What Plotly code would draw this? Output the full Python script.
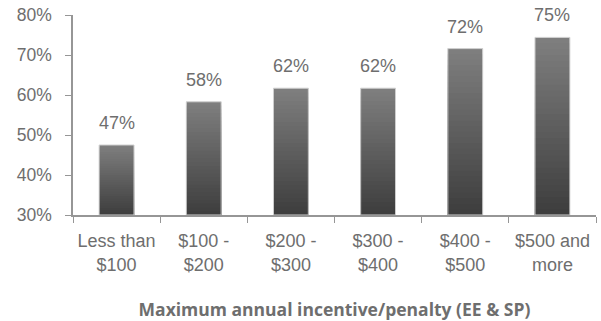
import plotly.graph_objects as go

categories = ["Less than<br>$100", "$100 -<br>$200", "$200 -<br>$300", "$300 -<br>$400", "$400 -<br>$500", "$500 and<br>more"]
values = [47.5, 58.3, 61.7, 61.7, 71.6, 74.4]
labels = ["47%", "58%", "62%", "62%", "72%", "75%"]
y_ticks = [30, 40, 50, 60, 70, 80]
y_tick_labels = ["30%", "40%", "50%", "60%", "70%", "80%"]
axis_title = "Maximum annual incentive/penalty (EE & SP)"

base_value = 30
n_seg = 30
top_rgb = (126, 126, 126)
bot_rgb = (62, 62, 62)
FONT = "Liberation Sans Narrow, Liberation Sans, sans-serif"

fig = go.Figure()
# layered gradient: tallest (lightest) first, shorter darker layers on top
for k in range(n_seg):
    t = 1 - k / (n_seg - 1)
    c = tuple(round(bot_rgb[j] + (top_rgb[j] - bot_rgb[j]) * t) for j in range(3))
    frac = (n_seg - k) / n_seg
    fig.add_trace(go.Bar(
        x=categories, y=[(v - base_value) * frac for v in values], base=[base_value] * len(values),
        marker=dict(color="rgb(%d,%d,%d)" % c, line=dict(width=0)),
        width=0.4, hoverinfo="skip", showlegend=False,
    ))

# outline
fig.add_trace(go.Bar(
    x=categories, y=[v - base_value for v in values], base=[base_value] * len(values),
    marker=dict(color="rgba(0,0,0,0)", line=dict(width=1, color="#d0d0d0")),
    width=0.4, hoverinfo="skip", showlegend=False,
))

for cat, v, lab in zip(categories, values, labels):
    fig.add_annotation(x=cat, y=v, text=lab, showarrow=False, yanchor="bottom", yshift=10,
                       font=dict(family=FONT, size=18, color="#6e6e6e"))

fig.update_layout(
    width=601, height=321, barmode="overlay",
    margin=dict(l=73, r=5, t=15, b=106),
    plot_bgcolor="white", paper_bgcolor="white",
    xaxis=dict(
        showline=True, linecolor="#969696", linewidth=1.5,
        ticks="outside", tickson="boundaries", ticklen=6, tickcolor="#969696",
        tickfont=dict(family=FONT, size=18, color="#6e6e6e"),
        ticklabelstandoff=9,
        title=dict(text="<b>" + axis_title + "</b>", standoff=30,
                   font=dict(family="Open Sans, sans-serif", size=17.5, color="#6e6e6e")),
        showgrid=False,
    ),
    yaxis=dict(
        range=[30, 80], tickvals=y_ticks, ticktext=y_tick_labels,
        showline=True, linecolor="#969696", linewidth=1.5,
        ticks="outside", ticklen=6, tickcolor="#969696",
        tickfont=dict(family=FONT, size=17.5, color="#6e6e6e"),
        ticklabelstandoff=10,
        showgrid=False, zeroline=False,
    ),
    bargap=0.6,
)
fig.write_html("out.html")
